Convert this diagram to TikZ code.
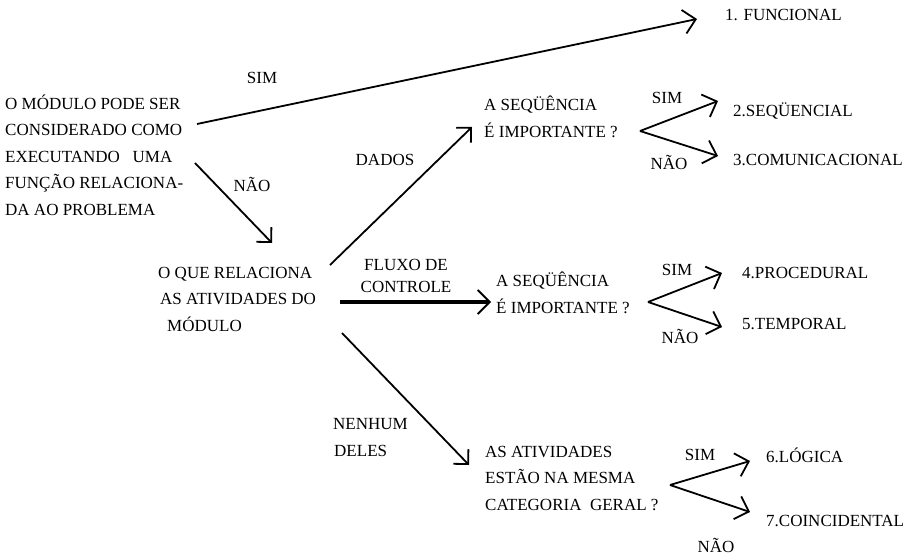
\documentclass[tikz,border=0pt]{standalone}
\usepackage{fontspec}
\setmainfont{Liberation Serif}
\usepackage{tikz}
\usetikzlibrary{arrows.meta}

\tikzset{
    txt/.style={anchor=base west, inner sep=0pt, align=left,
        font=\fontsize{17}{26.5}\selectfont},
    lbl/.style={inner sep=0pt, font=\fontsize{17}{22}\selectfont},
    arr/.style={line width=1.8pt, -{Straight Barb[length=12pt, width=24pt]}},
    corner/.style={line width=1.8pt, -{Straight Barb[length=10.5pt, width=21pt]}},
    thickarr/.style={line width=3.6pt, -{Straight Barb[length=12pt, width=24pt, line width=1.8pt]}}
}

\begin{document}
\begin{tikzpicture}[x=1pt, y=-1pt]
    \useasboundingbox (0,0) rectangle (910,557);

    % texto (base = ultima linha)
    \node[txt] (modulo) at (5,215) {O MÓDULO PODE SER\\CONSIDERADO COMO\\EXECUTANDO \ \ UMA\\FUNÇÃO RELACIONA-\\DA AO PROBLEMA};
    \node[txt] (relaciona) at (158,331) {O QUE RELACIONA\\\hspace{2pt}AS ATIVIDADES DO\\\hspace{9pt}MÓDULO};
    \node[txt] (seqA) at (484,137) {A SEQÜÊNCIA\\É IMPORTANTE ?};
    \node[txt] (seqB) at (496,313) {A SEQÜÊNCIA\\É IMPORTANTE ?};
    \node[txt] (categ) at (485,510) {AS ATIVIDADES\\ESTÃO NA MESMA\\CATEGORIA \ GERAL ?};

    \node[txt] (funcional) at (725,20) {1. FUNCIONAL};
    \node[txt] (sequencial) at (733,116) {2.SEQÜENCIAL};
    \node[txt] (comunic) at (733,165) {3.COMUNICACIONAL};
    \node[txt] (procedural) at (742,278) {4.PROCEDURAL};
    \node[txt] (temporal) at (742,329) {5.TEMPORAL};
    \node[txt] (logica) at (766,462) {6.LÓGICA};
    \node[txt] (coincid) at (766,526) {7.COINCIDENTAL};

    % rotulos
    \node[lbl] (simF) at (262,78) {SIM};
    \node[lbl] (naoR) at (252,184) {NÃO};
    \node[lbl] (dados) at (385,160) {DADOS};
    \node[lbl, align=center] (fluxo) at (406,276) {FLUXO DE\\CONTROLE};
    \node[txt] (nenhum) at (333,456) {NENHUM\\\hspace{1pt}DELES};
    \node[lbl] (simA) at (667,98) {SIM};
    \node[lbl] (naoA) at (669,162) {NÃO};
    \node[lbl] (simB) at (677,270) {SIM};
    \node[lbl] (naoB) at (680,336) {NÃO};
    \node[lbl] (simC) at (700,455) {SIM};
    \node[lbl] (naoC) at (716,545) {NÃO};

    % pontas
    \coordinate (m1) at (197,124);
    \coordinate (m2) at (195,163);
    \coordinate (f1) at (697,19);
    \coordinate (r0) at (272,243);
    \coordinate (r1) at (330,265);
    \coordinate (r2) at (340,302);
    \coordinate (r3) at (342,333);
    \coordinate (a0) at (472,127);
    \coordinate (b0) at (491,302);
    \coordinate (c0) at (469,465);
    \coordinate (qA) at (640,131);
    \coordinate (qB) at (648,302);
    \coordinate (qC) at (670,485);
    \coordinate (a1) at (718,101);
    \coordinate (a2) at (718,156);
    \coordinate (b1) at (722,273);
    \coordinate (b2) at (722,327);
    \coordinate (c1) at (750,461);
    \coordinate (c2) at (750,512);

    \draw[arr] (m1) -- (f1);
    \draw[corner] (m2) -- (r0);
    \draw[corner] (r1) -- (a0);
    \draw[thickarr] (r2) -- (b0);
    \draw[corner] (r3) -- (c0);
    \draw[arr] (qA) -- (a1);
    \draw[arr] (qA) -- (a2);
    \draw[arr] (qB) -- (b1);
    \draw[arr] (qB) -- (b2);
    \draw[arr] (qC) -- (c1);
    \draw[arr] (qC) -- (c2);
\end{tikzpicture}
\end{document}
